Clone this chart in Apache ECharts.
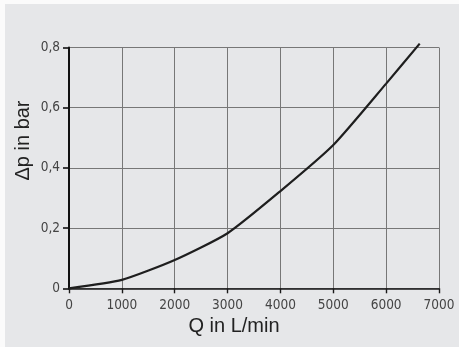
<!DOCTYPE html>
<html><head><meta charset="utf-8">
<script src="https://cdn.jsdelivr.net/npm/echarts@6/dist/echarts.min.js"></script>
<style>
html,body{margin:0;padding:0;background:#fbfbfb;width:459px;height:347px;overflow:hidden}
#c{position:absolute;left:5px;top:4px;width:454px;height:343px;background:#e6e7e9}
</style></head>
<body><div id="c"></div>
<script>
const flowQ = [0, 1000, 2000, 3000, 4000, 5000, 6000, 6635];
const deltaP = [0, 0.028, 0.094, 0.183, 0.323, 0.476, 0.68, 0.813];
const xTitle = 'Q in L/min';
const yTitle = 'Δp in bar';
const narrow = "'DejaVu Sans Condensed','Liberation Sans Narrow','Arial Narrow',sans-serif";
const chart = echarts.init(document.getElementById('c'), null, {renderer: 'canvas'});
chart.setOption({
  animation: false,
  backgroundColor: '#e6e7e9',
  grid: {left: 64, right: 20, top: 43.5, bottom: 58.7, containLabel: false},
  xAxis: {
    type: 'value', min: 0, max: 7000, interval: 1000,
    axisLine: {show: true, onZero: false, lineStyle: {color: '#1a1a1a', width: 1.6}},
    axisTick: {show: true, length: 5, lineStyle: {color: '#1a1a1a', width: 1.4}},
    axisLabel: {color: '#444', fontFamily: narrow, fontSize: 13.5, margin: 10,
      formatter: v => String(v)},
    splitLine: {show: true, lineStyle: {color: '#777', width: 1}}
  },
  yAxis: {
    type: 'value', min: 0, max: 0.8, interval: 0.2,
    axisLine: {show: true, lineStyle: {color: '#111', width: 2}},
    axisTick: {show: true, length: 6, lineStyle: {color: '#111', width: 1.6}},
    axisLabel: {color: '#444', fontFamily: narrow, fontSize: 13.5, margin: 9,
      formatter: v => String(Math.round(v * 10) / 10).replace('.', ',')},
    splitLine: {show: true, lineStyle: {color: '#777', width: 1}}
  },
  series: [{
    type: 'line', data: flowQ.map((q, i) => [q, deltaP[i]]),
    showSymbol: false, smooth: 0.2, clip: false,
    lineStyle: {color: '#1e1e1e', width: 2.2}
  }],
  graphic: [
    {type: 'text', position: [229, 322], style: {text: xTitle, fill: '#222',
      font: "20px 'Liberation Sans', Arial, sans-serif", align: 'center', verticalAlign: 'middle'}},
    {type: 'text', rotation: Math.PI / 2, position: [18, 136.5], style: {text: yTitle, fill: '#222',
      font: "20px 'Liberation Sans', Arial, sans-serif", align: 'center', verticalAlign: 'middle'}}
  ]
});
</script></body></html>
